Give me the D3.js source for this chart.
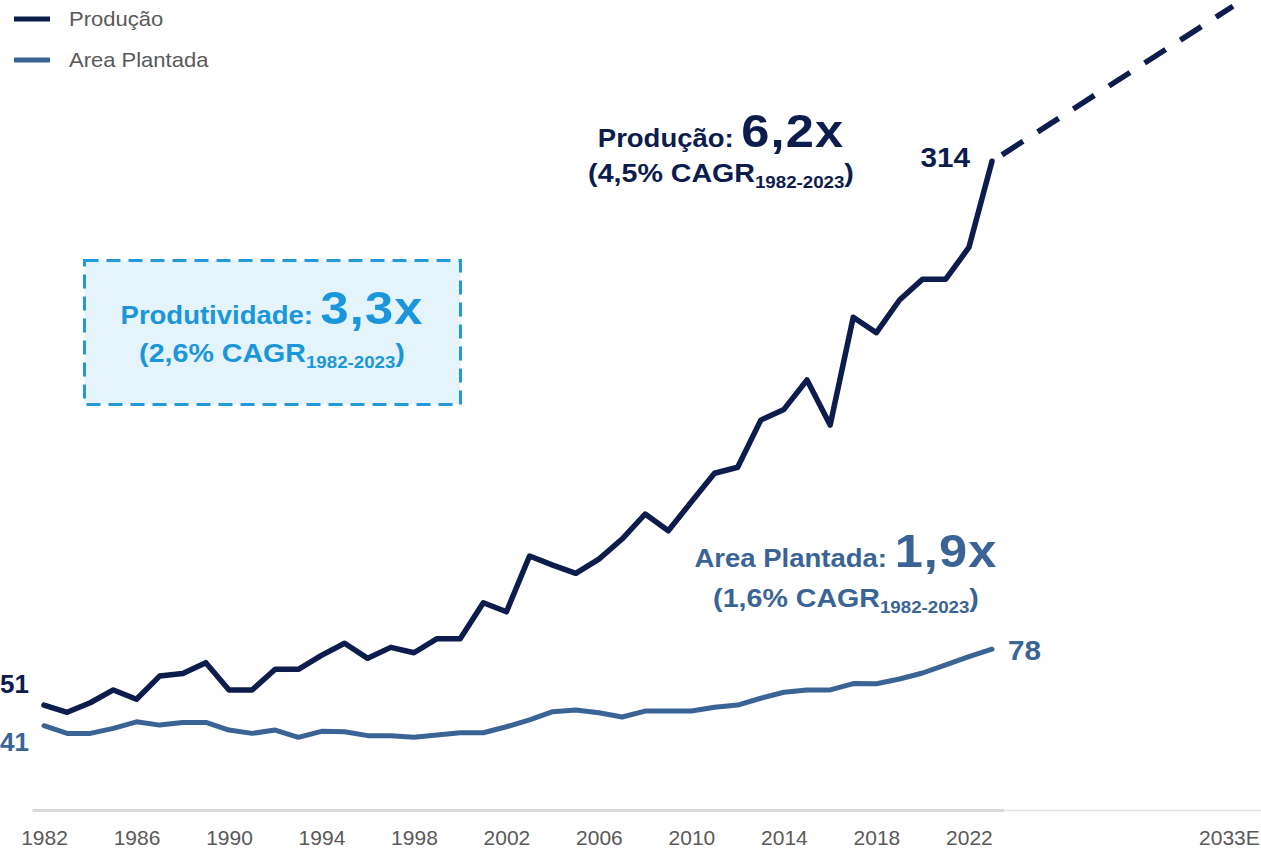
<!DOCTYPE html>
<html>
<head>
<meta charset="utf-8">
<script src="https://cdn.jsdelivr.net/npm/d3@7"></script>
<style>
  html, body { margin: 0; padding: 0; background: #ffffff; }
  svg { display: block; font-family: "Liberation Sans", Arial, sans-serif; }
</style>
</head>
<body>
<svg id="chart" width="1261" height="851"></svg>
<script>
// Years on the horizontal axis (historical series)
const years = [1982, 1983, 1984, 1985, 1986, 1987, 1988, 1989, 1990, 1991,
  1992, 1993, 1994, 1995, 1996, 1997, 1998, 1999, 2000, 2001,
  2002, 2003, 2004, 2005, 2006, 2007, 2008, 2009, 2010, 2011,
  2012, 2013, 2014, 2015, 2016, 2017, 2018, 2019, 2020, 2021,
  2022, 2023];

// Produção (mi t)
const producao = [51, 47.5, 52.1, 58.3, 53.8, 65.0, 66.3, 71.5, 58.3, 58.3,
  68.3, 68.3, 75.0, 80.9, 73.6, 78.9, 76.3, 83.1, 83.1, 100.5,
  96.1, 123.1, 118.7, 114.7, 121.6, 131.3, 143.4, 135.3, 149.3, 163.1,
  166.0, 188.8, 194.0, 208.2, 186.4, 238.6, 231.1, 246.9, 257.0, 257.0,
  272.3, 314];

// Area Plantada (mi ha)
const areaPlantada = [41, 37.3, 37.3, 39.7, 42.9, 41.3, 42.6, 42.6, 38.9, 37.3,
  38.9, 35.4, 38.3, 38.1, 36.2, 36.2, 35.4, 36.5, 37.6, 37.6,
  40.5, 43.8, 47.8, 48.6, 47.3, 45.2, 48.1, 48.1, 48.1, 49.9,
  51.0, 54.3, 57.2, 58.3, 58.3, 61.4, 61.3, 63.6, 66.5, 70.4,
  74.4, 78];

// Projected production
const projYears = [2023, 2033];
const projProducao = [314, 389];

// Axis ticks
const tickYears = [1982, 1986, 1990, 1994, 1998, 2002, 2006, 2010, 2014, 2018, 2022, 2033];
const tickLabels = ["1982", "1986", "1990", "1994", "1998", "2002", "2006", "2010", "2014", "2018", "2022", "2033E"];

// Legend entries
const legendNames = ["Produção", "Area Plantada"];

const NAVY = "#0b1c4d";
const STEEL = "#3a6496";
const SKY = "#1a96da";
const GREY_TEXT = "#595959";
const SX = 1.1; // horizontal text stretch

const svg = d3.select("#chart");

const x = d3.scaleLinear().domain([1982, 2023, 2033]).range([44, 992, 1233]);
const y = d3.scaleLinear().domain([0, 392]).range([810.5, 0]);

// --- axis ---
const axisG = svg.append("g").attr("transform", `translate(0,${y(0)})`);
axisG.append("line")
  .attr("x1", x(1981.5)).attr("x2", x(2023.5))
  .attr("y1", 0).attr("y2", 0)
  .attr("stroke", "#d9d9d9").attr("stroke-width", 3);
axisG.append("line")
  .attr("x1", x(2023.5)).attr("x2", 1261)
  .attr("y1", 0).attr("y2", 0)
  .attr("stroke", "#e2e2e2").attr("stroke-width", 1.5);

const axis = d3.axisBottom(x)
  .tickValues(tickYears)
  .tickFormat((d, i) => tickLabels[i])
  .tickSize(0);
const ax = axisG.append("g").call(axis);
ax.select(".domain").remove();
ax.selectAll(".tick text")
  .attr("y", 35).attr("dy", 0)
  .attr("fill", GREY_TEXT)
  .attr("font-size", 20)
  .attr("font-family", "Liberation Sans, Arial, sans-serif")
  .attr("transform", "scale(1.05,1)");
// keep the projection label inside the right edge
ax.selectAll(".tick text").filter(d => d === 2033)
  .attr("text-anchor", "end")
  .attr("x", 25);

// --- lines ---
const line = d3.line().x(d => x(d[0])).y(d => y(d[1]));

svg.append("path")
  .datum(years.map((yr, i) => [yr, areaPlantada[i]]))
  .attr("d", line)
  .attr("fill", "none").attr("stroke", STEEL)
  .attr("stroke-width", 5).attr("stroke-linejoin", "round").attr("stroke-linecap", "round");

svg.append("path")
  .datum(years.map((yr, i) => [yr, producao[i]]))
  .attr("d", line)
  .attr("fill", "none").attr("stroke", NAVY)
  .attr("stroke-width", 5.5).attr("stroke-linejoin", "round").attr("stroke-linecap", "round");

svg.append("path")
  .datum(projYears.map((yr, i) => [yr, projProducao[i]]))
  .attr("d", line)
  .attr("fill", "none").attr("stroke", NAVY)
  .attr("stroke-width", 5.5)
  .attr("stroke-dasharray", "25 17.4")
  .attr("stroke-dashoffset", 30.5);

// --- end labels ---
function stretchedText(px, py, anchor, sx) {
  return svg.append("g")
    .attr("transform", `translate(${px},${py}) scale(${sx},1)`)
    .append("text")
    .attr("text-anchor", anchor);
}
const last = years.length - 1;
stretchedText(x(years[0]) - 15, y(producao[0]) - 12, "end", 1)
  .attr("font-size", 26).attr("font-weight", "bold").attr("fill", NAVY)
  .text(producao[0]);
stretchedText(x(years[0]) - 15, y(areaPlantada[0]) + 25, "end", 1)
  .attr("font-size", 26).attr("font-weight", "bold").attr("fill", STEEL)
  .text(areaPlantada[0]);
stretchedText(x(years[last]) - 22, y(producao[last]) + 6, "end", SX)
  .attr("font-size", 27).attr("font-weight", "bold").attr("fill", NAVY)
  .text(producao[last]);
stretchedText(x(years[last]) + 16, y(areaPlantada[last]) + 11, "start", SX)
  .attr("font-size", 27).attr("font-weight", "bold").attr("fill", STEEL)
  .text(areaPlantada[last]);

// --- productivity box ---
svg.append("rect")
  .attr("x", 84.5).attr("y", 260.5)
  .attr("width", 376).attr("height", 144)
  .attr("fill", "#e5f3fb")
  .attr("stroke", "#2499d8").attr("stroke-width", 3)
  .attr("stroke-dasharray", "14 8");

// --- growth annotations ---
function growthNote(cx, y1, y2, color, label, multiple, cagr) {
  const g1 = svg.append("g").attr("transform", `translate(${cx},${y1}) scale(${SX},1)`);
  const t1 = g1.append("text").attr("text-anchor", "middle")
    .attr("fill", color).attr("font-weight", "bold");
  t1.append("tspan").attr("font-size", 25).text(label + ": ");
  t1.append("tspan").attr("font-size", 46).attr("letter-spacing", 1).text(multiple);

  const g2 = svg.append("g").attr("transform", `translate(${cx},${y2}) scale(${SX},1)`);
  const t2 = g2.append("text").attr("text-anchor", "middle")
    .attr("fill", color).attr("font-weight", "bold");
  t2.append("tspan").attr("font-size", 26).text(`(${cagr}% CAGR`);
  t2.append("tspan").attr("font-size", 17).attr("dy", 6).text("1982-2023");
  t2.append("tspan").attr("font-size", 26).attr("dy", -6).text(")");
}

growthNote(721, 147, 182, NAVY, "Produção", "6,2x", "4,5");
growthNote(272, 324, 362, SKY, "Produtividade", "3,3x", "2,6");
growthNote(846, 567, 607, STEEL, "Area Plantada", "1,9x", "1,6");

// --- legend ---
const legendColors = [NAVY, STEEL];
const legend = svg.append("g");
legendNames.forEach((name, i) => {
  const ly = 19 + i * 41;
  legend.append("line")
    .attr("x1", 14).attr("x2", 50).attr("y1", ly).attr("y2", ly)
    .attr("stroke", legendColors[i]).attr("stroke-width", 5);
  legend.append("g")
    .attr("transform", `translate(69,${ly + 7}) scale(${SX},1)`)
    .append("text")
    .attr("font-size", 20).attr("fill", GREY_TEXT)
    .text(name);
});
</script>
</body>
</html>
